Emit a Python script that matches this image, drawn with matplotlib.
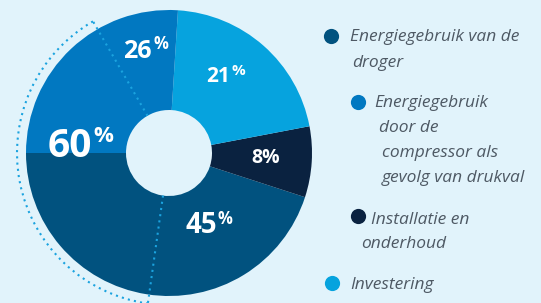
import numpy as np
import matplotlib.pyplot as plt
from matplotlib.patches import Arc

# data
shares = [45, 8, 21, 26]
share_colors = ['#01527f', '#0a2240', '#06a3de', '#0178c1']
legend_lines = [['Energiegebruik van de', 'droger'],
                ['Energiegebruik', 'door de', 'compressor als', 'gevolg van drukval'],
                ['Installatie en', 'onderhoud'],
                ['Investering']]
legend_colors = ['#01527f', '#0178c1', '#0a2240', '#06a3de']
total_label = '60'

BG = '#e1f3fb'
TXT = '#4e5964'


def main():
    W, H = 541, 303
    fig = plt.figure(figsize=(W / 100, H / 100), dpi=100, facecolor=BG)
    ax = fig.add_axes([0, 0, 1, 1])
    ax.set_facecolor(BG)

    cx, cy, r_out, r_in = 169, 150, 143, 43
    ax.pie(shares, colors=share_colors, startangle=180, counterclock=True,
           center=(cx, cy), radius=r_out, frame=True,
           wedgeprops=dict(width=r_out - r_in, linewidth=0))
    ax.set_xlim(0, W)
    ax.set_ylim(0, H)
    ax.set_aspect('equal')
    ax.axis('off')

    # dotted bracket around the left part
    a1, a2, rb = 120, 262, 152
    dot = dict(color='#1ba3df', linestyle=(0, (1, 2)), linewidth=1.5)
    ax.add_patch(Arc((cx, cy), 2 * rb, 2 * rb, theta1=a1, theta2=a2, **dot))
    for a in (a1, a2):
        t = np.radians(a)
        ax.plot([cx + r_in * np.cos(t), cx + rb * np.cos(t)],
                [cy + r_in * np.sin(t), cy + rb * np.sin(t)], **dot)

    fam = 'Open Sans'
    # value labels: number + small raised percent (x, baseline, size, % size, % baseline)
    labs = [(str(shares[3]), 152, 245, 18, 12, 254),
            (str(shares[2]), 230, 221, 15, 11, 228),
            (total_label, 92, 146, 28, 16, 161),
            (str(shares[0]), 217, 70, 20, 12, 79)]
    for num, x, yb, fs, pfs, pb in labs:
        ax.text(x, yb, num, ha='right', va='baseline', color='white',
                fontsize=fs, fontweight='bold', family=fam)
        ax.text(x + 1, pb, '%', ha='left', va='baseline', color='white',
                fontsize=pfs, fontweight='bold', family=fam)
    ax.text(266, 140, str(shares[1]) + '%', ha='center', va='baseline',
            color='white', fontsize=14, fontweight='bold', family=fam)

    # legend
    markers = [(331, 267), (358, 201), (358, 87), (332, 20)]
    line_pos = [[(350, 262), (352, 236)],
                [(374, 196), (379, 171), (382, 146), (382, 121)],
                [(371, 79), (361, 55)],
                [(350, 14)]]
    for (mx, my), lines, pos, c in zip(markers, legend_lines, line_pos, legend_colors):
        ax.scatter([mx], [my], s=120, color=c, zorder=3, linewidths=0)
        for txt, (tx, ty) in zip(lines, pos):
            ax.text(tx, ty, txt, ha='left', va='baseline', color=TXT,
                    fontsize=12.5, style='italic', family=fam)

    fig.savefig('out.png', dpi=100, facecolor=BG)


if __name__ == "__main__":
    main()
